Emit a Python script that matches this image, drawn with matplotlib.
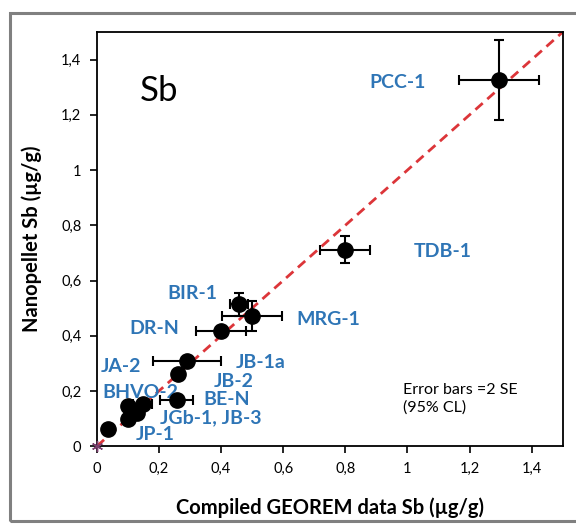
import matplotlib
matplotlib.use("Agg")
import matplotlib.pyplot as plt
from matplotlib.patches import Rectangle

# Measured points: compiled GEOREM value vs nanopellet value (µg/g)
georem_sb = [1.295, 0.80, 0.458, 0.50, 0.40, 0.29, 0.261, 0.258, 0.148, 0.10, 0.13, 0.10, 0.035]
pellet_sb = [1.325, 0.712, 0.514, 0.471, 0.417, 0.309, 0.260, 0.169, 0.154, 0.147, 0.122, 0.100, 0.061]
georem_err = [0.13, 0.08, 0.03, 0.097, 0.08, 0.11, 0.0, 0.053, 0.03, 0.0, 0.02, 0.01, 0.0]
pellet_err = [0.145, 0.05, 0.042, 0.054, 0.0, 0.0, 0.0, 0.0, 0.0, 0.0, 0.0, 0.01, 0.0]

# Sample names and where their labels sit (data coordinates, left edge)
sample_names = ["PCC-1", "TDB-1", "BIR-1", "MRG-1", "DR-N", "JB-1a", "JA-2",
                "JB-2", "BHVO-2", "BE-N", "JGb-1, JB-3", "JP-1"]
label_x = [0.877, 1.019, 0.226, 0.642, 0.106, 0.448, 0.013, 0.377, 0.019, 0.342, 0.203, 0.126]
label_y = [1.317, 0.705, 0.554, 0.460, 0.428, 0.302, 0.288, 0.236, 0.194, 0.169, 0.104, 0.044]

one_to_one = [0.0, 1.5]
tick_values = [0, 0.2, 0.4, 0.6, 0.8, 1.0, 1.2, 1.4]
tick_labels = ["0", "0,2", "0,4", "0,6", "0,8", "1", "1,2", "1,4"]

BLUE = "#2E75B6"
RED = "#DC3539"

plt.rcParams["font.family"] = ["Lato", "DejaVu Sans"]

fig = plt.figure(figsize=(5.76, 5.25), dpi=100)
ax = fig.add_axes([0.168, 0.150, 0.809, 0.789])

# outer picture frame
fig.patches.append(Rectangle((0.0174, 0.0076), 1.2, 0.9676, transform=fig.transFigure,
                             fill=False, edgecolor="#808080", linewidth=2.2))

ax.plot(one_to_one, one_to_one, color=RED, linewidth=2.0, dashes=(3.5, 2.2), zorder=2)
ax.plot([0], [0], marker=(6, 2, 0), color="#7B3F6E", markersize=8, zorder=3,
        linestyle="none", clip_on=False)

ax.errorbar(georem_sb, pellet_sb, xerr=georem_err, yerr=pellet_err, fmt="o",
            color="black", markersize=11, elinewidth=1.5, capsize=3.5,
            capthick=1.5, zorder=4)

for name, lx, ly in zip(sample_names, label_x, label_y):
    ax.text(lx, ly, name, color=BLUE, fontsize=14, fontweight="bold",
            ha="left", va="center")

ax.text(0.139, 1.288, "Sb", fontsize=25, ha="left", va="center")
ax.text(0.987, 0.203, "Error bars =2 SE", fontsize=11.5, ha="left", va="center")
ax.text(0.987, 0.140, "(95% CL)", fontsize=11.5, ha="left", va="center")

ax.set_xlim(0, 1.5)
ax.set_ylim(0, 1.5)
ax.set_xticks(tick_values)
ax.set_xticklabels(tick_labels)
ax.set_yticks(tick_values)
ax.set_yticklabels(tick_labels)
ax.tick_params(direction="out", length=5, width=1.2, labelsize=10.5, pad=6)
for spine in ax.spines.values():
    spine.set_linewidth(1.3)

ax.set_xlabel("Compiled GEOREM data Sb (µg/g)", fontsize=14.5, fontweight="bold", labelpad=16)
ax.set_ylabel("Nanopellet Sb (µg/g)", fontsize=14.5, fontweight="bold", labelpad=14)

fig.savefig("out.png", dpi=100)
